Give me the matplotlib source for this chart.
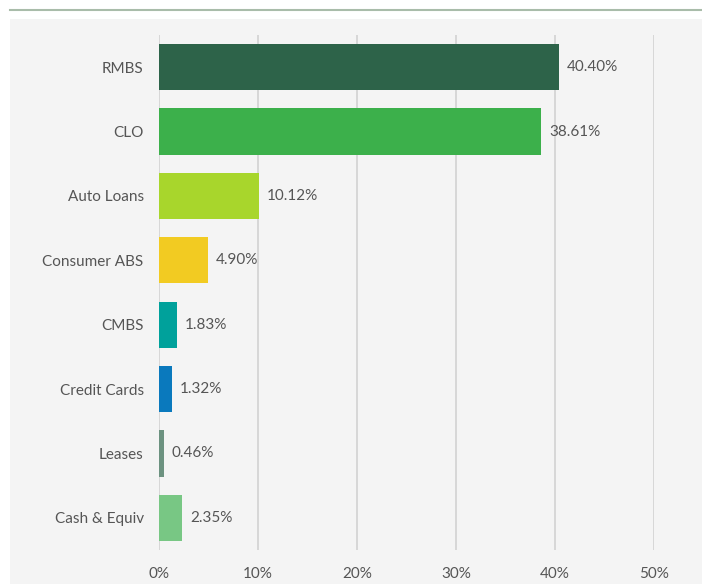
import matplotlib
matplotlib.use("Agg")
import matplotlib.pyplot as plt
from matplotlib.patches import Rectangle
from matplotlib.lines import Line2D

categories = ["RMBS", "CLO", "Auto Loans", "Consumer ABS", "CMBS",
              "Credit Cards", "Leases", "Cash & Equiv"]
values = [40.40, 38.61, 10.12, 4.90, 1.83, 1.32, 0.46, 2.35]
colors = ["#2d6349", "#3cb04b", "#a8d62c", "#f2cb22", "#00a19b",
          "#0a79bd", "#6c9280", "#78c784"]
xticks = [0, 10, 20, 30, 40, 50]

plt.rcParams["font.family"] = ["Lato", "DejaVu Sans"]
txt_color = "#555555"
fs = 11

W, H = 702, 584
fig = plt.figure(figsize=(W / 100, H / 100), dpi=100)
fig.patch.set_facecolor("white")

# grey panel and top rule
fig.patches.append(Rectangle((10 / W, 0), 1 - 10 / W, (H - 19) / H,
                             transform=fig.transFigure, facecolor="#f4f4f4",
                             edgecolor="none", zorder=-10))
fig.lines.append(Line2D([10 / W, 1], [1 - 9.5 / H, 1 - 9.5 / H],
                        transform=fig.transFigure, color="#a9bcaa", lw=1.5,
                        zorder=-10))

ax = fig.add_axes([159 / W, (H - 550) / H, (654 - 159) / W, (550 - 35) / H])
ax.set_facecolor("none")

y = list(range(len(categories)))
ax.barh(y, values, height=0.72, color=colors, zorder=3)
for yi, v in zip(y, values):
    ax.text(v + 0.8, yi, f"{v:.2f}%", va="center", ha="left",
            fontsize=fs, color=txt_color)

ax.set_xlim(0, 50)
ax.set_ylim(len(categories) - 0.5, -0.5)
ax.set_yticks(y)
ax.set_yticklabels(categories, fontsize=fs, color=txt_color)
ax.set_xticks(xticks)
ax.set_xticklabels([f"{t}%" for t in xticks], fontsize=fs, color=txt_color)
ax.tick_params(length=0)
ax.tick_params(axis="y", pad=11)
ax.tick_params(axis="x", pad=12)
ax.grid(axis="x", color="#d4d4d4", lw=1.3, zorder=0)
for s in ax.spines.values():
    s.set_visible(False)

fig.savefig("out.png", dpi=100)
